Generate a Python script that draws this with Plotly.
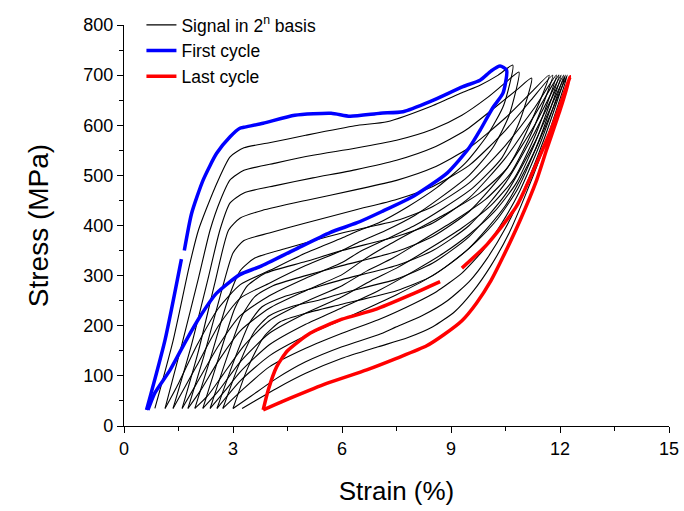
import plotly.graph_objects as go

# ---- First cycle (blue) ----
blue_x = [0.62, 1.13, 1.58, None, 1.66, 1.86, 2.18, 2.55, 2.92, 3.19, 3.3, 3.83, 4.7, 5.7, 6.22, 7.05, 7.68, 8.42, 9.33, 9.8, 10.1, 10.35, 10.53,
          10.43, 10.15, 9.8, 9.5, 8.9, 8.0, 7.1, 6.4, 5.67, 4.7, 3.74, 3.19, 2.55, 2.09, 1.72, 1.27, 0.85, 0.66]
blue_y = [32, 172, 333, None, 350, 424, 491, 544, 577, 594, 596, 604, 620, 624, 618, 624, 627, 647, 677, 690, 708, 718, 710,
          664, 635, 590, 555, 505, 460, 428, 405, 386, 352, 318, 302, 265, 218, 172, 112, 66, 32]

# ---- Last cycle (red) ----
red_x = [3.83, 3.97, 4.2, 4.5, 5.12, 6.0, 6.9, 7.9, 8.7, None, 9.3, 10.0, 10.8, 11.36, 11.8, 12.28,
         12.0, 11.63, 11.36, 10.9, 10.45, 10.1, 9.7, 9.3, 8.8, 8.33, 7.5, 6.68, 5.58, 4.66, 3.83]
red_y = [32, 72, 118, 150, 185, 213, 232, 262, 288, None, 315, 363, 438, 525, 600, 697,
         630, 551, 491, 410, 340, 290, 245, 210, 182, 160, 135, 112, 85, 58, 32]

# ---- Intermediate cycles (black, "signal in 2^n basis") ----
c1_x = [0.85, 1.35, 1.8, 2.05, 2.5, 2.92, 3.3, 4, 5, 6.36, 7.24, 8.42, 9.3, 9.8, 10.3, 10.7,
        10.45, 10.0, 9.4, 8.6, 7.8, 7, 6.4, 6, 5, 4, 3.2, 2.6, 2.0, 1.5, 1.13]
c1_y = [35, 170, 320, 391, 475, 537, 555, 565, 580, 599, 607, 637, 665, 680, 700, 720,
        640, 580, 525, 475, 437, 405, 388, 375, 345, 310, 282, 235, 160, 85, 35]

c2_x = [1.13, 1.6, 2.05, 2.37, 2.65, 2.92, 3.3, 4.2, 5.2, 6.36, 7.5, 8.5, 9.3, 10.0, 10.5, 10.87,
        10.6, 10.15, 9.5, 8.7, 8, 7.2, 6.5, 6, 5, 4, 3.2, 2.6, 2.0, 1.35]
c2_y = [35, 165, 295, 391, 450, 491, 510, 525, 540, 554, 570, 592, 620, 655, 685, 706,
        620, 555, 500, 455, 420, 390, 368, 350, 320, 285, 255, 200, 120, 35]

c3_x = [1.35, 1.85, 2.3, 2.64, 2.92, 3.3, 4.2, 5.2, 6.36, 7.5, 8.5, 9.4, 10.2, 10.8, 11.22,
        10.9, 10.4, 9.6, 8.8, 8, 7.2, 6.5, 6, 5, 4, 3.2, 2.6, 2.0, 1.6]
c3_y = [35, 160, 290, 391, 445, 465, 480, 495, 511, 530, 555, 590, 635, 670, 694,
        610, 535, 475, 435, 400, 372, 348, 326, 295, 260, 220, 160, 85, 35]

c4_x = [1.6, 2.05, 2.5, 2.88, 3.2, 3.8, 5, 6.36, 7.5, 8.5, 9.5, 10.5, 11.2, 11.7,
        11.15, 10.55, 9.8, 8.9, 8, 7.2, 6.6, 6, 5, 4, 3.2, 2.6, 2.1, 1.76]
c4_y = [35, 150, 285, 391, 415, 430, 450, 471, 490, 515, 555, 615, 665, 700,
        598, 515, 465, 425, 390, 358, 332, 302, 270, 235, 190, 130, 70, 35]

c5_x = [1.76, 2.2, 2.65, 3.0, 3.3, 4, 5, 6.36, 7.5, 8.5, 9.5, 10.5, 11.2, 11.8,
        11.25, 10.65, 9.95, 9.1, 8.2, 7.4, 6.7, 6, 5, 4, 3.3, 2.7, 2.3, 1.95]
c5_y = [35, 140, 260, 345, 370, 385, 405, 431, 452, 478, 520, 590, 650, 700,
        590, 505, 452, 410, 370, 335, 310, 280, 248, 210, 160, 100, 60, 35]

c6_x = [1.95, 2.4, 2.85, 3.2, 3.6, 4.5, 6, 7.5, 8.5, 9.5, 10.5, 11.3, 11.9,
        11.35, 10.75, 10.1, 9.3, 8.5, 7.5, 6.8, 6, 5, 4, 3.2, 2.6, 2.17]
c6_y = [35, 140, 250, 310, 335, 355, 385, 410, 438, 485, 560, 635, 700,
        585, 495, 440, 395, 358, 315, 290, 258, 225, 185, 128, 70, 35]

c7_x = [2.17, 2.6, 3.05, 3.4, 3.9, 5, 6, 7.5, 8.5, 9.5, 10.5, 11.3, 11.97,
        11.4, 10.8, 10.2, 9.5, 8.8, 8, 7, 6, 5, 4, 3.2, 2.8, 2.37]
c7_y = [35, 135, 235, 280, 305, 328, 350, 378, 405, 455, 535, 620, 700,
        580, 485, 428, 382, 345, 310, 270, 236, 203, 162, 108, 72, 35]

c8_x = [2.37, 2.8, 3.25, 3.6, 4.1, 5, 6, 7.5, 8.5, 9.5, 10.5, 11.3, 12.03,
        11.45, 10.85, 10.3, 9.7, 9.0, 8.3, 7.5, 7, 6, 5, 4, 3.2, 2.56]
c8_y = [35, 130, 220, 258, 280, 300, 320, 348, 378, 428, 510, 600, 700,
        575, 475, 415, 368, 325, 292, 262, 245, 212, 180, 140, 90, 35]

c9_x = [2.56, 3.0, 3.45, 3.8, 4.4, 5.2, 6, 7.5, 8.5, 9.5, 10.5, 11.3, 12.1,
        11.5, 10.9, 10.4, 9.9, 9.3, 8.6, 8, 7, 6, 5, 4, 3.3, 2.72]
c9_y = [35, 125, 205, 238, 258, 275, 292, 320, 350, 400, 485, 585, 700,
        572, 470, 405, 352, 305, 268, 245, 212, 185, 155, 118, 75, 35]

c10_x = [2.72, 3.15, 3.6, 4.0, 4.6, 5.4, 6, 7.5, 8.5, 9.5, 10.5, 11.3, 12.15,
         11.55, 11.0, 10.5, 10.0, 9.5, 8.9, 8.2, 7.5, 7, 6, 5, 4.2, 3.5, 3.0]
c10_y = [35, 120, 190, 220, 238, 252, 265, 293, 325, 378, 462, 565, 700,
         570, 470, 395, 335, 288, 250, 220, 198, 182, 158, 128, 95, 60, 35]

c11_x = [3.0, 3.4, 3.85, 4.3, 5, 6, 7.5, 8.5, 9.5, 10.5, 11.3, 12.2,
         11.6, 11.1, 10.6, 10.1, 9.6, 9.1, 8.5, 7.8, 7, 6, 5, 4.2, 3.6, 3.25]
c11_y = [35, 115, 178, 208, 225, 243, 270, 300, 355, 440, 548, 700,
         565, 470, 385, 320, 268, 228, 198, 176, 158, 135, 105, 75, 50, 35]

black_cycles = [(c1_x, c1_y), (c2_x, c2_y), (c3_x, c3_y), (c4_x, c4_y), (c5_x, c5_y), (c6_x, c6_y),
                (c7_x, c7_y), (c8_x, c8_y), (c9_x, c9_y), (c10_x, c10_y), (c11_x, c11_y)]

x_ticks = [0, 3, 6, 9, 12, 15]
y_ticks = [0, 100, 200, 300, 400, 500, 600, 700, 800]

FONT = "Liberation Sans, Arial, sans-serif"

fig = go.Figure()
for i, (cx, cy) in enumerate(black_cycles):
    fig.add_trace(go.Scatter(
        x=cx, y=cy, mode="lines", name="Signal in 2<sup>n</sup> basis",
        legendgroup="black", showlegend=(i == 0),
        line=dict(color="black", width=1.1, shape="spline", smoothing=0.6),
        connectgaps=False))

fig.add_trace(go.Scatter(x=blue_x, y=blue_y, mode="lines", name="First cycle",
                         line=dict(color="#0000FF", width=3.5, shape="spline", smoothing=0.6),
                         connectgaps=False))
fig.add_trace(go.Scatter(x=red_x, y=red_y, mode="lines", name="Last cycle",
                         line=dict(color="#FF0000", width=3.5, shape="spline", smoothing=0.6),
                         connectgaps=False))

axis_common = dict(showline=True, linecolor="black", linewidth=1.3, ticks="outside",
                   ticklen=6, tickwidth=1.3, tickcolor="black", showgrid=False, zeroline=False,
                   tickfont=dict(family=FONT, size=18, color="black"), mirror=False)

fig.update_xaxes(range=[0, 15], tickvals=x_ticks, ticktext=[str(v) for v in x_ticks],
                 minor=dict(ticks="outside", ticklen=4, tickwidth=1.3, tickcolor="black", dtick=1.5, showgrid=False),
                 title=dict(text="Strain (%)", font=dict(family=FONT, size=26, color="black"), standoff=24),
                 **axis_common)
fig.update_yaxes(range=[0, 800], tickvals=y_ticks, ticktext=[str(v) for v in y_ticks],
                 minor=dict(ticks="outside", ticklen=4, tickwidth=1.3, tickcolor="black", dtick=50, showgrid=False),
                 title=dict(text="Stress (MPa)", font=dict(family=FONT, size=28, color="black"), standoff=26),
                 **axis_common)

fig.update_layout(
    width=684, height=511,
    margin=dict(l=124, r=15, t=25, b=85, autoexpand=False),
    paper_bgcolor="white", plot_bgcolor="white",
    showlegend=True,
    legend=dict(x=0.032, y=1.045, xanchor="left", yanchor="top", bgcolor="rgba(0,0,0,0)",
                font=dict(family=FONT, size=17.5, color="black"), tracegroupgap=0,
                itemwidth=30),
)

fig.write_html("out.html")
